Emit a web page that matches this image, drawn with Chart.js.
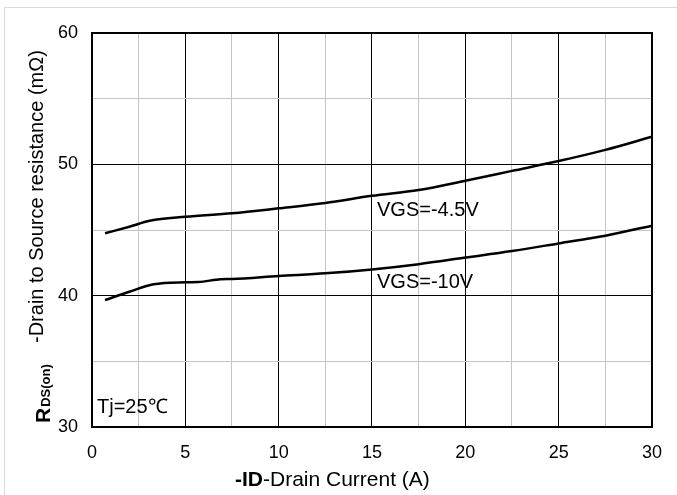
<!DOCTYPE html>
<html>
<head>
<meta charset="utf-8">
<script src="https://cdn.jsdelivr.net/npm/chart.js@4.4.1/dist/chart.umd.min.js"></script>
<style>
html,body{margin:0;padding:0;background:#fff;}
#wrap{width:677px;height:495px;position:relative;}
canvas{display:block;}
</style>
</head>
<body>
<div id="wrap"><canvas id="c" width="677" height="495"></canvas></div>
<script>
// ---- data ----
const seriesNames = ["VGS=-4.5V", "VGS=-10V"];
const idA45 = [0.7, 2.0, 3.1, 5, 7.5, 10, 12.5, 15, 17.5, 20, 22.5, 25, 27.5, 30];
const rdsA45 = [44.75, 45.25, 45.7, 46.0, 46.27, 46.65, 47.06, 47.6, 48.05, 48.75, 49.5, 50.25, 51.1, 52.1];
const idA10 = [0.7, 2.0, 3.3, 5, 5.7, 6.9, 7.5, 10, 12.5, 15, 17.5, 20, 22.5, 25, 27.5, 30];
const rdsA10 = [39.67, 40.3, 40.87, 41.02, 41.04, 41.25, 41.27, 41.5, 41.7, 42.0, 42.4, 42.9, 43.4, 43.98, 44.57, 45.33];
const xGridValues = [0, 2.5, 5, 7.5, 10, 12.5, 15, 17.5, 20, 22.5, 25, 27.5, 30];
const xTickLabels = [0, 5, 10, 15, 20, 25, 30];
const yGridValues = [30, 35, 40, 45, 50, 55, 60];
const yTickLabels = [30, 40, 50, 60];
const xTitleBold = "-ID";
const xTitleRest = "-Drain Current (A)";
const yTitleR = "R";
const yTitleSub = "DS(on)";
const yTitleRest = "-Drain to Source resistance (mΩ)";
const tempNote = "Tj=25℃";

const FONT = "'Liberation Sans', Arial, sans-serif";

const toPts = (xs, ys) => xs.map((x, i) => ({x: x, y: ys[i]}));

const decor = {
  id: 'decor',
  beforeDraw(chart) {
    const ctx = chart.ctx;
    ctx.save();
    ctx.fillStyle = '#fff';
    ctx.fillRect(0, 0, chart.width, chart.height);
    ctx.strokeStyle = '#d9d9d9';
    ctx.lineWidth = 1;
    ctx.beginPath();
    ctx.moveTo(4.5, 495);
    ctx.lineTo(4.5, 7.5);
    ctx.lineTo(677, 7.5);
    ctx.stroke();
    ctx.restore();
  },
  afterDraw(chart) {
    const ctx = chart.ctx;
    const a = chart.chartArea;
    ctx.save();
    // plot frame
    ctx.strokeStyle = '#000';
    ctx.lineWidth = 2;
    ctx.strokeRect(a.left, a.top, a.right - a.left, a.bottom - a.top);
    // series annotations
    ctx.fillStyle = '#000';
    ctx.textBaseline = 'alphabetic';
    ctx.textAlign = 'left';
    ctx.font = '20px ' + FONT;
    ctx.fillText(seriesNames[0], 377, 216);
    ctx.fillText(seriesNames[1], 377, 288);
    ctx.fillText(tempNote, 97, 413);
    // x title
    ctx.font = 'bold 21px ' + FONT;
    const wb = ctx.measureText(xTitleBold).width;
    ctx.fillText(xTitleBold, 235, 486);
    ctx.font = '21px ' + FONT;
    ctx.fillText(xTitleRest, 235 + wb, 486);
    // y title
    ctx.save();
    ctx.translate(50, 423);
    ctx.rotate(-Math.PI / 2);
    ctx.font = 'bold 21px ' + FONT;
    const wr = ctx.measureText(yTitleR).width;
    ctx.fillText(yTitleR, 0, 0);
    ctx.font = 'bold 13px ' + FONT;
    ctx.fillText(yTitleSub, wr + 1, 0);
    ctx.restore();
    ctx.save();
    ctx.translate(43, 343);
    ctx.rotate(-Math.PI / 2);
    ctx.font = '20px ' + FONT;
    ctx.fillText(yTitleRest, 0, 0);
    ctx.restore();
    ctx.restore();
  }
};

const lineStyle = {
  borderColor: '#000',
  borderWidth: 2.5,
  pointRadius: 0,
  fill: false,
  cubicInterpolationMode: 'monotone'
};

new Chart(document.getElementById('c'), {
  type: 'line',
  data: {
    datasets: [
      Object.assign({label: seriesNames[0], data: toPts(idA45, rdsA45)}, lineStyle),
      Object.assign({label: seriesNames[1], data: toPts(idA10, rdsA10)}, lineStyle)
    ]
  },
  options: {
    responsive: false,
    devicePixelRatio: 1,
    animation: false,
    layout: {padding: {left: 0, top: 33, right: 25, bottom: 0}},
    plugins: {legend: {display: false}, tooltip: {enabled: false}},
    scales: {
      x: {
        type: 'linear', min: 0, max: 30,
        afterBuildTicks: s => { s.ticks = xGridValues.map(v => ({value: v})); },
        afterFit: s => { s.height = 68; },
        ticks: {
          autoSkip: false, maxRotation: 0, minRotation: 0,
          padding: 15, color: '#000',
          font: {size: 18, family: FONT},
          callback: v => xTickLabels.includes(v) ? String(v) : ''
        },
        grid: {
          drawTicks: false, lineWidth: 1,
          color: c => (xTickLabels.includes(c.tick.value) ? '#000' : '#c4c4c4')
        },
        border: {display: false}
      },
      y: {
        type: 'linear', min: 30, max: 60,
        afterBuildTicks: s => { s.ticks = yGridValues.map(v => ({value: v})); },
        afterFit: s => { s.width = 92; },
        ticks: {
          autoSkip: false, padding: 14, color: '#000',
          font: {size: 18, family: FONT},
          callback: v => yTickLabels.includes(v) ? String(v) : ''
        },
        grid: {
          drawTicks: false, lineWidth: 1,
          color: c => (yTickLabels.includes(c.tick.value) ? '#000' : '#c4c4c4')
        },
        border: {display: false}
      }
    }
  },
  plugins: [decor]
});
</script>
</body>
</html>
